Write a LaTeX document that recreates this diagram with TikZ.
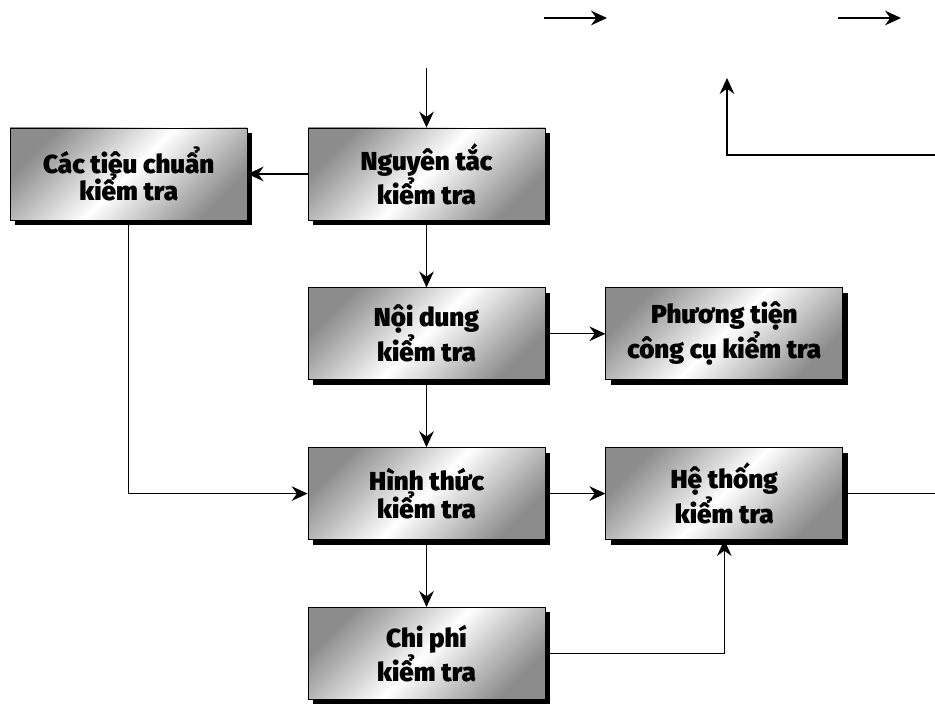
\documentclass[tikz,border=0pt]{standalone}
\usepackage{fontspec}
\setmainfont{Fira Sans}[BoldFont={Fira Sans Black}]
\usetikzlibrary{arrows.meta,positioning,shadows}

\begin{document}
\begin{tikzpicture}[x=0.75pt,y=-0.75pt,
	node distance=50.25pt and 45pt,
	hop/.style={draw=black, line width=0.6pt, minimum width=177.75pt, minimum height=69pt,
		top color=gray!90, bottom color=gray!90, middle color=white, shading angle=45,
		drop shadow={shadow xshift=3.75pt, shadow yshift=-3.75pt, fill=black, opacity=1},
		font=\bfseries\fontsize{19.5}{20.5}\selectfont, align=center},
	mui/.style={-{Stealth[length=12pt,width=11pt,inset=4pt]}, line width=0.9pt}]
\useasboundingbox (0,0) rectangle (935,705);
\node[hop] (nguyentac) at (426.5,174) {Nguyên tắc\\kiểm tra};
\node[hop, left=of nguyentac] (tieuchuan) {Các tiêu chuẩn\\kiểm tra};
\node[hop, below=of nguyentac] (noidung) {Nội dung\\kiểm tra};
\node[hop, right=of noidung] (phuongtien) {Phương tiện\\công cụ kiểm tra};
\node[hop, below=of noidung] (hinhthuc) {Hình thức\\kiểm tra};
\node[hop, right=of hinhthuc] (hethong) {Hệ thống\\kiểm tra};
\node[hop, below=of hinhthuc] (chiphi) {Chi phí\\kiểm tra};
\coordinate (dau) at (426.5,68);
\coordinate (le) at (935,0);
\coordinate (phai) at (935,155);
\coordinate (dinh) at (727,78);
\coordinate (a1) at (544,18);
\coordinate (a2) at (607,18);
\coordinate (b1) at (838,18);
\coordinate (b2) at (901,18);
\draw[mui] (dau) -- (nguyentac);
\draw[mui] (nguyentac) -- (tieuchuan);
\draw[mui] (nguyentac) -- (noidung);
\draw[mui] (noidung) -- (phuongtien);
\draw[mui] (noidung) -- (hinhthuc);
\draw[mui] (tieuchuan.south) |- (hinhthuc.west);
\draw[mui] (hinhthuc) -- (hethong);
\draw[mui] (hinhthuc) -- (chiphi);
\draw[mui] (chiphi.east) -| (hethong.south);
\draw[line width=0.9pt] (hethong.east) -- (hethong.east -| le);
\draw[mui] (phai) -| (dinh);
\draw[mui] (a1) -- (a2);
\draw[mui] (b1) -- (b2);
\end{tikzpicture}
\end{document}
